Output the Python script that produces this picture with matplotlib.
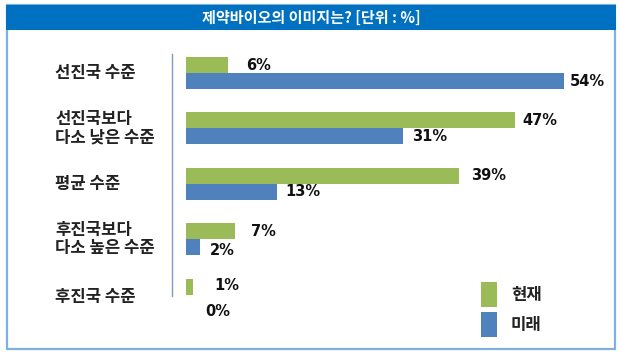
import matplotlib
matplotlib.use("Agg")
import matplotlib.pyplot as plt
from matplotlib.patches import Rectangle
from matplotlib.lines import Line2D
from matplotlib.transforms import blended_transform_factory
import numpy as np

# ---- data ----
title = "제약바이오의 이미지는? [단위 : %]"
categories = ["선진국 수준", "선진국보다\n다소 낮은 수준", "평균 수준", "후진국보다\n다소 높은 수준", "후진국 수준"]
current = [6, 47, 39, 7, 1]      # 현재
future = [54, 31, 13, 2, 0]      # 미래
series_names = ["현재", "미래"]

# ---- style ----
W, H, DPI = 620, 355, 100
GREEN = "#9BBB59"
BLUE = "#4F81BD"
TITLE_BG = "#0070C0"
FRAME = "#7EB1DE"
KR = ["Noto Sans CJK KR", "DejaVu Sans"]
NUM = ["DejaVu Sans"]
pad_cur = [(18, 0), (7, 0), (12, 0), (16, 0), (21, 1)]     # label gaps in px
pad_fut = [(6, 0), (9, 0), (8, 0), (10, -3), (19, -9)]

def fx(x):
    return x / W

def fy(y):
    return 1 - y / H

fig = plt.figure(figsize=(W / DPI, H / DPI), dpi=DPI)
fig.patch.set_facecolor("white")

# frame + title bar
fig.add_artist(Rectangle((fx(7), fy(349)), fx(615) - fx(7), fy(5) - fy(349),
                         transform=fig.transFigure, fill=False, edgecolor=FRAME, linewidth=1.6))
fig.add_artist(Rectangle((fx(6), fy(29.5)), fx(616) - fx(6), fy(5) - fy(29.5),
                         transform=fig.transFigure, facecolor=TITLE_BG, edgecolor="none"))
fig.text(fx(311), fy(17.5), title, color="white", fontsize=10.9, fontweight="bold",
         family=KR, ha="center", va="center")

# axes: x=0 at px 186, 7 px per %, group centres 73 .. 294.7 px
spacing = (294.7 - 73) / 4
top_px = 73 - spacing / 2
bot_px = 294.7 + spacing / 2
ax = fig.add_axes([fx(186), fy(bot_px), 420 / W, (bot_px - top_px) / H])
ax.set_xlim(0, 60)
ax.set_ylim(len(categories) - 0.5, -0.5)
ax.axis("off")

y = np.arange(len(categories))
h = 16 / spacing
ax.barh(y - h / 2, current, height=h, color=GREEN, edgecolor="none")
ax.barh(y + h / 2, future, height=h, color=BLUE, edgecolor="none")

for i in range(len(categories)):
    ax.annotate(f"{current[i]}%", (current[i], y[i] - h / 2), xytext=pad_cur[i],
                textcoords="offset pixels", ha="left", va="center",
                fontsize=10.5, fontweight="bold", family=NUM, color="#111111")
    ax.annotate(f"{future[i]}%", (future[i], y[i] + h / 2), xytext=pad_fut[i],
                textcoords="offset pixels", ha="left", va="center",
                fontsize=10.5, fontweight="bold", family=NUM, color="#111111")

# category labels
tr = blended_transform_factory(fig.transFigure, ax.transData)
for i, c in enumerate(categories):
    ax.text(fx(55), y[i] + (0.04 if i == 4 else 0), c, transform=tr, ha="left", va="center",
            fontsize=12, fontweight="bold", family=KR, color="#222222",
            linespacing=1.0, clip_on=False)

# vertical axis line
fig.add_artist(Line2D([fx(172), fx(172)], [fy(54), fy(296)], transform=fig.transFigure,
                      color="#7F9CC8", linewidth=1.0))

# legend (manual: tall swatches)
for k, (name, col) in enumerate(zip(series_names, [GREEN, BLUE])):
    top = 282.3 + k * 30
    fig.add_artist(Rectangle((fx(481), fy(top + 24.4)), 16 / W, 24.4 / H,
                             transform=fig.transFigure, facecolor=col, edgecolor="none"))
    fig.text(fx(511), fy(top + 12.5), name, ha="left", va="center", fontsize=12,
             fontweight="bold", family=KR, color="#222222")

fig.savefig("out.png", dpi=DPI, facecolor="white")
